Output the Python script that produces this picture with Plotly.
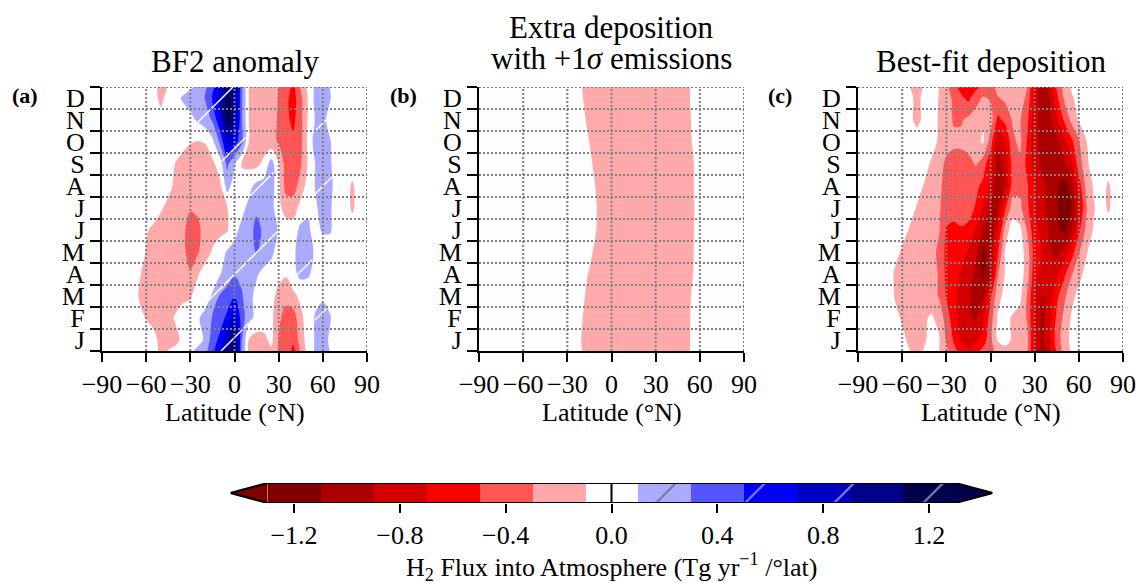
import math
import plotly.graph_objects as go

# ---------------- data ----------------
LATS = [-90, -85, -80, -75, -70, -65, -60, -55, -50, -45, -40, -35, -30, -25, -20, -15, -10, -5,
        0, 5, 10, 15, 20, 25, 30, 35, 40, 45, 50, 55, 60, 65, 70, 75, 80, 85, 90]
MONTH_CENTERS = [0.5, 1.5, 2.5, 3.5, 4.5, 5.5, 6.5, 7.5, 8.5, 9.5, 10.5, 11.5]
MONTH_LABELS = ["J", "F", "M", "A", "M", "J", "J", "A", "S", "O", "N", "D"]
MONTH_EDGES = [0, 1, 2, 3, 4, 5, 6, 7, 8, 9, 10, 11, 12]
LAT_TICKS = [-90, -60, -30, 0, 30, 60, 90]

# (a) BF2 anomaly, rows Jan..Dec  (Tg/yr per deg lat)
A_JAN = [0, 0, 0, 0, 0, 0, 0, -0.05, -0.15, -0.18, -0.15, -0.05, 0.0, 0.05, 0.12, 0.4, 0.55, 0.85, 1.15, 0.3, -0.12, -0.18, -0.15, -0.05, -0.31, -0.45, -0.48, -0.2, 0.0, 0.12, 0.15, 0.08, 0, 0, 0, 0, 0]
A_FEB = [0, 0, 0, 0, 0, 0, -0.11, -0.15, -0.18, -0.15, -0.08, 0.0, 0.0, 0.08, 0.15, 0.32, 0.4, 0.55, 0.8, 0.4, 0.15, 0.05, 0.0, -0.05, -0.25, -0.4, -0.4, -0.15, 0.0, 0.12, 0.15, 0.11, 0, 0, 0, 0, 0]
A_MAR = [0, 0, 0, 0, 0, -0.11, -0.18, -0.2, -0.2, -0.2, -0.18, -0.15, -0.12, 0.0, 0.02, 0.12, 0.32, 0.38, 0.48, 0.32, 0.15, 0.05, 0.0, -0.05, -0.15, -0.22, -0.15, -0.05, 0.0, 0.05, 0.08, 0.05, 0, 0, 0, 0, 0]
A_APR = [0, 0, 0, 0, 0, -0.08, -0.15, -0.18, -0.2, -0.2, -0.2, -0.2, -0.28, -0.12, 0.0, 0.0, 0.08, 0.2, 0.28, 0.25, 0.18, 0.12, 0.05, 0.0, -0.05, -0.08, 0.05, 0.15, 0.12, 0.05, 0.0, 0.0, 0, 0, 0, 0, 0]
A_MAY = [0, 0, 0, 0, 0, 0.0, -0.11, -0.15, -0.18, -0.2, -0.22, -0.25, -0.38, -0.32, -0.2, -0.08, 0.0, 0.12, 0.15, 0.18, 0.2, 0.32, 0.2, 0.15, 0.0, 0.0, 0.08, 0.15, 0.15, 0.08, 0.0, 0.0, 0, 0, 0, 0, 0]
A_JUN = [0, 0, 0, 0, 0, 0.0, -0.08, -0.14, -0.18, -0.2, -0.22, -0.25, -0.4, -0.35, -0.22, -0.18, -0.15, -0.12, 0.05, 0.15, 0.2, 0.38, 0.25, 0.2, 0.08, 0.0, 0.0, 0.15, 0.12, 0.05, 0.12, 0.12, 0, 0, 0, 0, 0]
A_JUL = [0, 0, 0, 0, 0, 0, 0, 0.0, -0.08, -0.15, -0.2, -0.22, -0.28, -0.26, -0.2, -0.18, -0.15, -0.11, 0.0, 0.05, 0.15, 0.25, 0.2, 0.18, -0.05, -0.18, -0.2, -0.02, 0.08, 0.08, 0.15, 0.12, 0.0, 0.0, -0.13, 0.0, 0.0]
A_AUG = [0, 0, 0, 0, 0, 0, 0, 0, 0.0, -0.05, -0.14, -0.18, -0.22, -0.22, -0.2, -0.18, -0.15, 0.18, 0.0, 0.0, 0.05, 0.15, 0.18, 0.2, -0.05, -0.38, -0.38, -0.22, 0.0, 0.11, 0.2, 0.15, 0.0, 0.0, -0.13, 0.0, 0.0]
A_SEP = [0, 0, 0, 0, 0, 0, 0, 0, 0, 0.0, -0.11, -0.16, -0.2, -0.22, -0.22, -0.15, 0.0, 0.35, 0.12, -0.12, -0.15, -0.15, -0.05, 0.2, -0.09, -0.4, -0.45, -0.32, -0.08, 0.11, 0.16, 0.12, 0, 0, 0, 0, 0]
A_OCT = [0, 0, 0, 0, 0, 0, 0, 0, 0, 0, 0, -0.05, -0.09, -0.11, -0.09, 0.05, 0.32, 0.75, 0.6, 0.35, -0.12, -0.18, -0.2, -0.24, -0.32, -0.42, -0.45, -0.35, -0.05, 0.2, 0.18, 0.11, 0, 0, 0, 0, 0]
A_NOV = [0, 0, 0, 0, 0, 0, 0, 0.0, 0.0, 0.0, 0.0, 0.02, 0.06, 0.12, 0.2, 0.32, 0.65, 1.2, 0.95, 0.31, -0.12, -0.18, -0.2, -0.24, -0.32, -0.45, -0.55, -0.35, -0.08, 0.12, 0.14, 0.05, 0, 0, 0, 0, 0]
A_DEC = [0, 0, 0, 0, 0, 0, 0, 0.0, -0.17, 0.0, 0.05, 0.12, 0.16, 0.22, 0.31, 0.52, 0.8, 1.15, 1.0, 0.32, -0.12, -0.18, -0.2, -0.22, -0.31, -0.45, -0.58, -0.35, -0.08, 0.16, 0.15, 0.11, 0, 0, 0, 0, 0]

# (b) Extra deposition with +1 sigma emissions
B_JAN = [0, 0, 0, 0, 0, 0, 0, 0, 0, 0, 0, 0, 0, 0, -0.114, -0.2, -0.2, -0.2, -0.2, -0.2, -0.2, -0.2, -0.2, -0.2, -0.2, -0.2, -0.2, -0.2, -0.2, -0.057, 0, 0, 0, 0, 0, 0, 0]
B_FEB = [0, 0, 0, 0, 0, 0, 0, 0, 0, 0, 0, 0, 0, 0, -0.089, -0.2, -0.2, -0.2, -0.2, -0.2, -0.2, -0.2, -0.2, -0.2, -0.2, -0.2, -0.2, -0.2, -0.2, -0.057, 0, 0, 0, 0, 0, 0, 0]
B_MAR = [0, 0, 0, 0, 0, 0, 0, 0, 0, 0, 0, 0, 0, 0, -0.033, -0.2, -0.2, -0.2, -0.2, -0.2, -0.2, -0.2, -0.2, -0.2, -0.2, -0.2, -0.2, -0.2, -0.2, -0.075, 0, 0, 0, 0, 0, 0, 0]
B_APR = [0, 0, 0, 0, 0, 0, 0, 0, 0, 0, 0, 0, 0, 0, 0, -0.125, -0.2, -0.2, -0.2, -0.2, -0.2, -0.2, -0.2, -0.2, -0.2, -0.2, -0.2, -0.2, -0.2, -0.11, 0, 0, 0, 0, 0, 0, 0]
B_MAY = [0, 0, 0, 0, 0, 0, 0, 0, 0, 0, 0, 0, 0, 0, 0, -0.021, -0.2, -0.2, -0.2, -0.2, -0.2, -0.2, -0.2, -0.2, -0.2, -0.2, -0.2, -0.2, -0.2, -0.12, 0, 0, 0, 0, 0, 0, 0]
B_JUN = [0, 0, 0, 0, 0, 0, 0, 0, 0, 0, 0, 0, 0, 0, 0, 0, -0.106, -0.2, -0.2, -0.2, -0.2, -0.2, -0.2, -0.2, -0.2, -0.2, -0.2, -0.2, -0.2, -0.125, 0, 0, 0, 0, 0, 0, 0]
B_JUL = [0, 0, 0, 0, 0, 0, 0, 0, 0, 0, 0, 0, 0, 0, 0, 0, -0.096, -0.2, -0.2, -0.2, -0.2, -0.2, -0.2, -0.2, -0.2, -0.2, -0.2, -0.2, -0.2, -0.135, 0, 0, 0, 0, 0, 0, 0]
B_AUG = [0, 0, 0, 0, 0, 0, 0, 0, 0, 0, 0, 0, 0, 0, 0, 0, -0.125, -0.2, -0.2, -0.2, -0.2, -0.2, -0.2, -0.2, -0.2, -0.2, -0.2, -0.2, -0.2, -0.12, 0, 0, 0, 0, 0, 0, 0]
B_SEP = [0, 0, 0, 0, 0, 0, 0, 0, 0, 0, 0, 0, 0, 0, 0, -0.033, -0.2, -0.2, -0.2, -0.2, -0.2, -0.2, -0.2, -0.2, -0.2, -0.2, -0.2, -0.2, -0.2, -0.125, 0, 0, 0, 0, 0, 0, 0]
B_OCT = [0, 0, 0, 0, 0, 0, 0, 0, 0, 0, 0, 0, 0, 0, 0, -0.104, -0.2, -0.2, -0.2, -0.2, -0.2, -0.2, -0.2, -0.2, -0.2, -0.2, -0.2, -0.2, -0.2, -0.089, 0, 0, 0, 0, 0, 0, 0]
B_NOV = [0, 0, 0, 0, 0, 0, 0, 0, 0, 0, 0, 0, 0, 0, 0, -0.2, -0.2, -0.2, -0.2, -0.2, -0.2, -0.2, -0.2, -0.2, -0.2, -0.2, -0.2, -0.2, -0.2, -0.075, 0, 0, 0, 0, 0, 0, 0]
B_DEC = [0, 0, 0, 0, 0, 0, 0, 0, 0, 0, 0, 0, 0, 0, -0.084, -0.2, -0.2, -0.2, -0.2, -0.2, -0.2, -0.2, -0.2, -0.2, -0.2, -0.2, -0.2, -0.2, -0.2, -0.048, 0, 0, 0, 0, 0, 0, 0]

# (c) Best-fit deposition
C_JAN = [0, 0, 0, 0, 0, 0, -0.05, -0.14, -0.16, -0.12, -0.05, -0.08, -0.32, -0.52, -0.72, -0.8, -0.75, -0.6, -0.35, -0.08, -0.05, -0.12, -0.15, -0.25, -0.75, -0.95, -0.75, -0.4, -0.2, -0.05, 0, 0, 0, 0, 0, 0, 0]
C_FEB = [0, 0, 0, 0, 0, -0.05, -0.12, -0.15, -0.15, -0.12, -0.08, -0.15, -0.4, -0.6, -0.78, -0.88, -0.92, -0.75, -0.4, -0.08, -0.05, -0.12, -0.18, -0.32, -0.75, -0.95, -0.8, -0.45, -0.25, -0.08, 0, 0, 0, 0, 0, 0, 0]
C_MAR = [0, 0, 0, 0, 0, -0.11, -0.15, -0.15, -0.15, -0.15, -0.18, -0.32, -0.52, -0.65, -0.78, -0.88, -0.98, -0.95, -0.55, -0.15, -0.05, 0.0, -0.05, -0.32, -0.72, -0.92, -0.85, -0.55, -0.35, -0.15, -0.05, 0, 0, 0, 0, 0, 0]
C_APR = [0, 0, 0, 0, 0, -0.12, -0.15, -0.15, -0.15, -0.18, -0.2, -0.32, -0.55, -0.62, -0.72, -0.8, -0.95, -1.15, -0.92, -0.32, -0.08, 0.0, 0.0, -0.2, -0.65, -0.75, -0.85, -0.75, -0.55, -0.32, -0.15, -0.05, 0, 0, 0, 0, 0]
C_MAY = [0, 0, 0, 0, 0, -0.05, -0.12, -0.15, -0.15, -0.18, -0.22, -0.35, -0.55, -0.6, -0.62, -0.72, -0.85, -1.15, -1.0, -0.52, -0.08, 0.0, 0.0, -0.2, -0.6, -0.72, -0.88, -0.95, -0.85, -0.6, -0.32, -0.12, 0, 0, 0, 0, 0]
C_JUN = [0, 0, 0, 0, 0, 0, -0.05, -0.11, -0.15, -0.18, -0.2, -0.28, -0.52, -0.55, -0.52, -0.55, -0.72, -0.92, -1.05, -0.75, -0.2, 0.0, -0.05, -0.32, -0.65, -0.75, -0.92, -1.05, -1.15, -0.95, -0.55, -0.25, -0.08, 0, 0, 0, 0]
C_JUL = [0, 0, 0, 0, 0, 0, 0, -0.05, -0.11, -0.15, -0.18, -0.28, -0.38, -0.42, -0.4, -0.42, -0.52, -0.72, -0.92, -0.95, -0.52, -0.2, -0.25, -0.45, -0.72, -0.85, -0.95, -1.08, -1.22, -1.12, -0.72, -0.32, -0.12, 0.0, -0.13, 0, 0]
C_AUG = [0, 0, 0, 0, 0, 0, 0, 0, -0.05, -0.11, -0.15, -0.25, -0.38, -0.42, -0.4, -0.4, -0.45, -0.55, -0.75, -1.05, -0.88, -0.4, -0.35, -0.48, -0.72, -0.85, -0.95, -1.08, -1.18, -1.0, -0.6, -0.25, -0.08, 0.0, -0.13, 0, 0]
C_SEP = [0, 0, 0, 0, 0, 0, 0, 0, 0, -0.05, -0.12, -0.2, -0.35, -0.4, -0.4, -0.38, -0.28, -0.4, -0.65, -1.0, -0.85, -0.4, -0.35, -0.55, -0.8, -0.95, -1.0, -1.05, -0.95, -0.75, -0.4, -0.15, 0, 0, 0, 0, 0]
C_OCT = [0, 0, 0, 0, 0, 0, 0, 0, 0, 0, -0.05, -0.12, -0.2, -0.25, -0.25, -0.2, -0.15, -0.08, -0.4, -0.85, -0.72, -0.35, -0.25, -0.52, -0.85, -0.95, -1.0, -0.95, -0.8, -0.55, -0.32, -0.11, 0, 0, 0, 0, 0]
C_NOV = [0, 0, 0, 0, 0, 0, 0, -0.05, -0.15, -0.05, 0.0, -0.12, -0.2, -0.32, -0.32, -0.25, -0.2, -0.12, -0.2, -0.55, -0.45, -0.28, -0.28, -0.45, -0.85, -0.95, -0.95, -0.75, -0.48, -0.25, -0.08, 0, 0, 0, 0, 0, 0]
C_DEC = [0, 0, 0, 0, 0, 0, 0, -0.05, -0.15, -0.05, 0.0, -0.11, -0.2, -0.35, -0.45, -0.55, -0.38, -0.28, -0.32, -0.32, -0.25, -0.2, -0.2, -0.35, -0.8, -1.0, -0.92, -0.55, -0.28, -0.12, -0.05, 0, 0, 0, 0, 0, 0]

PANEL_A = [A_JAN, A_FEB, A_MAR, A_APR, A_MAY, A_JUN, A_JUL, A_AUG, A_SEP, A_OCT, A_NOV, A_DEC]
PANEL_B = [B_JAN, B_FEB, B_MAR, B_APR, B_MAY, B_JUN, B_JUL, B_AUG, B_SEP, B_OCT, B_NOV, B_DEC]
PANEL_C = [C_JAN, C_FEB, C_MAR, C_APR, C_MAY, C_JUN, C_JUL, C_AUG, C_SEP, C_OCT, C_NOV, C_DEC]
for rows in (PANEL_A, PANEL_B, PANEL_C):
    for r in rows:
        assert len(r) == len(LATS), len(r)

# contour levels / colours
LEVEL_START, LEVEL_END, LEVEL_STEP = -1.3, 1.3, 0.2
HATCH_FROM = 0.1   # bins above this value carry the "/" hatch
BAND_COLORS = ["#800000", "#800000", "#aa0000", "#d40000", "#ff0000", "#ff5555", "#ffaaaa",
               "#fdfdff",
               "#aaaaff", "#5555ff", "#0000ff", "#0000c4", "#000089", "#00004d", "#00004d"]
CB_BIN_CENTERS = [-1.2, -1.0, -0.8, -0.6, -0.4, -0.2, 0.0, 0.2, 0.4, 0.6, 0.8, 1.0, 1.2]
CB_TICKS = [-1.2, -0.8, -0.4, 0.0, 0.4, 0.8, 1.2]
CB_TICKTEXT = ["\u22121.2", "\u22120.8", "\u22120.4", "0.0", "0.4", "0.8", "1.2"]

# ---------------- layout helpers ----------------
W, H = 1136, 583
FONT = "Liberation Serif, Times New Roman, serif"
HATCH_SPACING_PX = 63
HATCH_PHASE_PX = 320


def fx(p):
    return p / W


def fy(p):
    return 1 - p / H


colorscale = [[k / (len(BAND_COLORS) - 1), c] for k, c in enumerate(BAND_COLORS)]
Y_EXT = [MONTH_CENTERS[0] - 1] + MONTH_CENTERS + [MONTH_CENTERS[-1] + 1]

PANELS = [
    dict(rows=PANEL_A, x0=102, x1=367, ax="", label="(a)", labx=25),
    dict(rows=PANEL_B, x0=479, x1=744, ax="2", label="(b)", labx=403),
    dict(rows=PANEL_C, x0=858, x1=1123, ax="3", label="(c)", labx=780),
]
PY_TOP, PY_BOT = 87, 351


def field_value(z, lat, yv):
    """bilinear value of the gridded field (periodic-extended rows)"""
    dl = LATS[1] - LATS[0]
    fi = (lat - LATS[0]) / dl
    fj = yv - Y_EXT[0]
    i = max(0, min(int(fi), len(LATS) - 2))
    j = max(0, min(int(fj), len(Y_EXT) - 2))
    di, dj = fi - i, fj - j
    return (z[j][i] * (1 - di) * (1 - dj) + z[j][i + 1] * di * (1 - dj)
            + z[j + 1][i] * (1 - di) * dj + z[j + 1][i + 1] * di * dj)


def hatch_lines(z, x0px, x1px):
    sx = (x1px - x0px) / 180.0
    sy = (PY_BOT - PY_TOP) / 12.0
    xs, ys = [], []
    cmin, cmax = x0px + PY_TOP, x1px + PY_BOT
    c = HATCH_PHASE_PX + math.ceil((cmin - HATCH_PHASE_PX) / HATCH_SPACING_PX) * HATCH_SPACING_PX
    while c <= cmax:
        xa, xb = max(x0px, c - PY_BOT), min(x1px, c - PY_TOP)
        n = max(1, int((xb - xa) / 0.5))
        inside = False
        for t in range(n + 1):
            xp = xa + (xb - xa) * t / n
            yp = c - xp
            lat = (xp - x0px) / sx - 90
            yv = (PY_BOT - yp) / sy
            if field_value(z, lat, yv) > HATCH_FROM:
                xs.append(lat)
                ys.append(yv)
                inside = True
            elif inside:
                xs.append(None)
                ys.append(None)
                inside = False
        xs.append(None)
        ys.append(None)
        c += HATCH_SPACING_PX
    return xs, ys


fig = go.Figure()
shapes = []
annotations = []
layout = dict(
    width=W, height=H, margin=dict(l=0, r=0, t=0, b=0, autoexpand=False),
    paper_bgcolor="white", plot_bgcolor="white", showlegend=False,
    font=dict(family=FONT, size=26, color="black"),
)

for p in PANELS:
    ax = p["ax"]
    z_ext = [p["rows"][-1]] + p["rows"] + [p["rows"][0]]
    fig.add_trace(go.Contour(
        x=LATS, y=Y_EXT, z=z_ext, xaxis="x" + ax, yaxis="y" + ax,
        autocontour=False,
        contours=dict(start=LEVEL_START, end=LEVEL_END, size=LEVEL_STEP,
                      coloring="fill", showlines=False),
        colorscale=colorscale, showscale=False,
        line=dict(width=0, smoothing=1.0), hoverinfo="skip",
    ))
    hx, hy = hatch_lines(z_ext, p["x0"], p["x1"])
    if any(v is not None for v in hx):
        fig.add_trace(go.Scatter(x=hx, y=hy, mode="lines", xaxis="x" + ax, yaxis="y" + ax,
                                 line=dict(color="white", width=1.5), connectgaps=False,
                                 hoverinfo="skip"))
    layout["xaxis" + ax] = dict(
        domain=[fx(p["x0"]), fx(p["x1"])], anchor="y" + ax, range=[-90, 90],
        tickmode="array", tickvals=LAT_TICKS, ticks="outside", ticklen=9, tickwidth=2,
        tickcolor="black", showline=True, linewidth=2, linecolor="black",
        showgrid=False, zeroline=False, layer="above traces", automargin=False,
        tickfont=dict(size=26),
    )
    layout["yaxis" + ax] = dict(
        domain=[fy(PY_BOT), fy(PY_TOP)], anchor="x" + ax, range=[0, 12],
        tickmode="array", tickvals=MONTH_CENTERS, ticktext=MONTH_LABELS,
        ticks="outside", ticklen=10, tickcolor="rgba(0,0,0,0)",
        minor=dict(tickmode="array", tickvals=MONTH_EDGES, ticks="outside", ticklen=10,
                   tickwidth=2, tickcolor="black", showgrid=False),
        showline=True, linewidth=2, linecolor="black", automargin=False,
        showgrid=False, zeroline=False, layer="above traces",
        tickfont=dict(size=26),
    )
    xr = "x" + ax
    yr = "y" + ax
    for gx in LAT_TICKS[1:]:
        shapes.append(dict(type="line", xref=xr, yref=yr, x0=gx, x1=gx, y0=0, y1=12,
                           line=dict(color="#808080", width=2, dash="2px,2px"), layer="above"))
    for gy in MONTH_EDGES[1:]:
        shapes.append(dict(type="line", xref=xr, yref=yr, x0=-90, x1=90, y0=gy, y1=gy,
                           line=dict(color="#808080", width=2, dash="2px,2px"), layer="above"))
    # panel letter
    annotations.append(dict(text="<b>" + p["label"] + "</b>", x=fx(p["labx"]), y=fy(96),
                            xref="paper", yref="paper", xanchor="center", yanchor="middle",
                            showarrow=False, font=dict(size=22)))
    # x axis title
    annotations.append(dict(text="Latitude (\u00b0N)", x=fx((p["x0"] + p["x1"]) / 2), y=fy(412),
                            xref="paper", yref="paper", xanchor="center", yanchor="middle",
                            showarrow=False, font=dict(size=26)))

# titles
TITLE_FONT = dict(size=31)
annotations.append(dict(text="BF2 anomaly", x=fx(234.5), y=fy(61), xref="paper", yref="paper",
                        xanchor="center", yanchor="middle", showarrow=False, font=TITLE_FONT))
annotations.append(dict(text="Extra deposition", x=fx(611.5), y=fy(28), xref="paper", yref="paper",
                        xanchor="center", yanchor="middle", showarrow=False, font=TITLE_FONT))
annotations.append(dict(text="with +1<i>\u03c3</i> emissions", x=fx(611.5), y=fy(59), xref="paper",
                        yref="paper", xanchor="center", yanchor="middle", showarrow=False,
                        font=TITLE_FONT))
annotations.append(dict(text="Best-fit deposition", x=fx(990.5), y=fy(61), xref="paper", yref="paper",
                        xanchor="center", yanchor="middle", showarrow=False, font=TITLE_FONT))

# ---------------- colour bar ----------------
CB_RANGE = [-1.44, 1.44]
cb_colors = BAND_COLORS[1:-1]
cb_hatch = ["/" if v > HATCH_FROM else "" for v in CB_BIN_CENTERS]
fig.add_trace(go.Bar(
    x=CB_BIN_CENTERS, y=[1] * len(CB_BIN_CENTERS), base=0, width=LEVEL_STEP,
    xaxis="x4", yaxis="y4", hoverinfo="skip",
    marker=dict(color=cb_colors, line=dict(width=0),
                pattern=dict(shape=cb_hatch, fgcolor="white", size=HATCH_SPACING_PX,
                             solidity=0.035, fillmode="overlay")),
))
layout["xaxis4"] = dict(
    domain=[fx(230.5), fx(992.5)], anchor="y4", range=CB_RANGE,
    tickmode="array", tickvals=CB_TICKS, ticktext=CB_TICKTEXT,
    ticks="outside", ticklen=9, tickwidth=2, tickcolor="black", automargin=False,
    showline=False, showgrid=False, zeroline=False, tickfont=dict(size=26),
)
layout["yaxis4"] = dict(domain=[fy(503), fy(483)], anchor="x4", range=[0, 1], visible=False)
layout["bargap"] = 0

lo, hi = LEVEL_START, LEVEL_END
shapes.append(dict(type="path", xref="x4", yref="y4",
                   path=f"M {lo},0 L {CB_RANGE[0]},0.5 L {lo},1 Z",
                   fillcolor=BAND_COLORS[0], line=dict(width=0)))
shapes.append(dict(type="path", xref="x4", yref="y4",
                   path=f"M {hi},0 L {CB_RANGE[1]},0.5 L {hi},1 Z",
                   fillcolor=BAND_COLORS[-1], line=dict(width=0)))
shapes.append(dict(type="path", xref="x4", yref="y4",
                   path=f"M {lo},0 L {hi},0 L {CB_RANGE[1]},0.5 L {hi},1 L {lo},1 L {CB_RANGE[0]},0.5 Z",
                   line=dict(color="black", width=2), layer="above"))
shapes.append(dict(type="line", xref="x4", yref="y4", x0=0, x1=0, y0=0, y1=1,
                   line=dict(color="black", width=2), layer="above"))

annotations.append(dict(
    text="H<sub>2</sub> Flux into Atmosphere (Tg yr<sup>\u22121</sup> /\u00b0lat)",
    x=fx(611.5), y=fy(567), xref="paper", yref="paper", xanchor="center", yanchor="middle",
    showarrow=False, font=dict(size=26)))

layout["shapes"] = shapes
layout["annotations"] = annotations
fig.update_layout(**layout)
fig.write_html("out.html")
